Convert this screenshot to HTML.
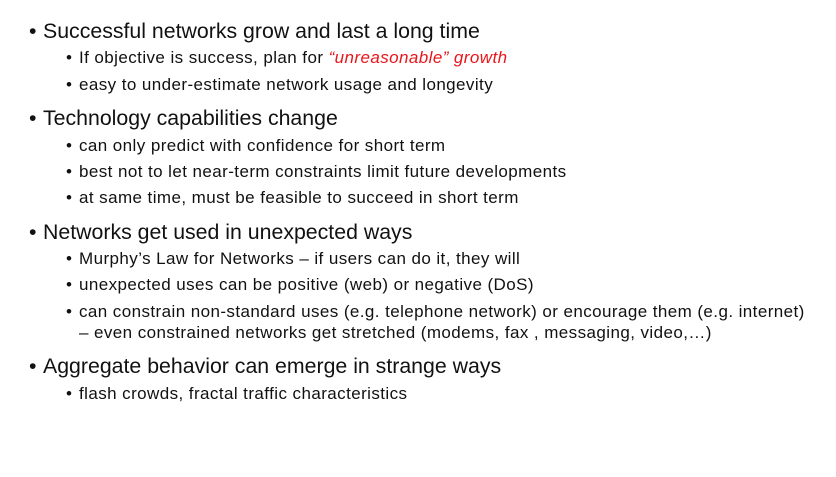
<!DOCTYPE html>
<html><head><meta charset="utf-8"><style>
html,body{margin:0;padding:0;background:#fff;}
body{width:836px;height:477px;position:relative;overflow:hidden;font-family:"Liberation Sans",sans-serif;color:#111;}
.l{position:absolute;white-space:nowrap;}
.l1{font-size:21.3px;line-height:24px;left:43px;letter-spacing:0px;}
.l2{font-size:17px;line-height:20px;left:79px;letter-spacing:0.42px;}
.l1::before{content:"•";position:absolute;left:-14px;}
.l2::before{content:"•";position:absolute;left:-13px;}
.nb::before{content:"";}
.red{color:#e8161b;font-style:italic;}
</style></head><body>
<div class="l l1" style="top:19px">Successful networks grow and last a long time</div>
<div class="l l2" style="top:48px">If objective is success, plan for <span class="red">“unreasonable” growth</span></div>
<div class="l l2" style="top:75px">easy to under-estimate network usage and longevity</div>
<div class="l l1" style="top:106px">Technology capabilities change</div>
<div class="l l2" style="top:136px">can only predict with confidence for short term</div>
<div class="l l2" style="top:162px">best not to let near-term constraints limit future developments</div>
<div class="l l2" style="top:188px">at same time, must be feasible to succeed in short term</div>
<div class="l l1" style="top:220px">Networks get used in unexpected ways</div>
<div class="l l2" style="top:249px">Murphy’s Law for Networks – if users can do it, they will</div>
<div class="l l2" style="top:275px">unexpected uses can be positive (web) or negative (DoS)</div>
<div class="l l2" style="top:302px">can constrain non-standard uses (e.g. telephone network) or encourage them (e.g. internet)</div>
<div class="l l2 nb" style="top:323px">– even constrained networks get stretched (modems, fax , messaging, video,…)</div>
<div class="l l1" style="top:354px">Aggregate behavior can emerge in strange ways</div>
<div class="l l2" style="top:384px">flash crowds, fractal traffic characteristics</div>
</body></html>
